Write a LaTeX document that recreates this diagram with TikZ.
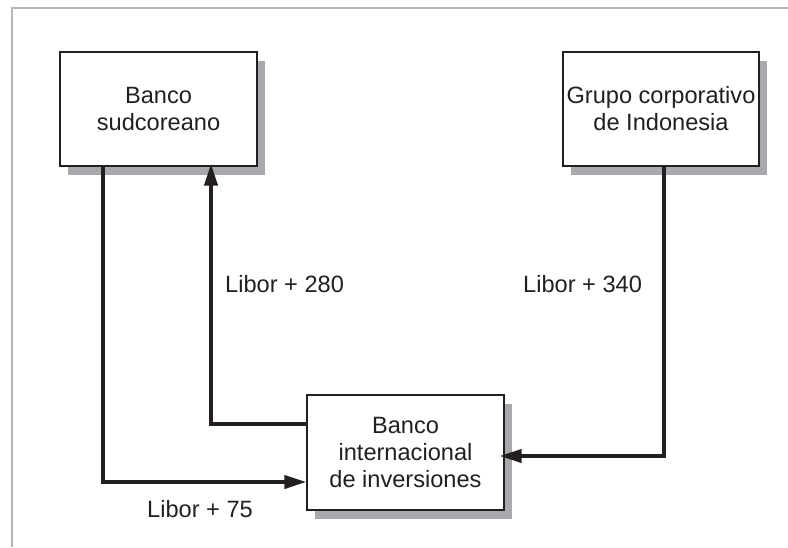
\documentclass[tikz,border=0pt]{standalone}
\usepackage{fontspec}
\setmainfont{Liberation Sans}
\usetikzlibrary{arrows.meta,shadows}
\definecolor{ink}{HTML}{231F20}
\definecolor{shade}{HTML}{A7A9AC}
\definecolor{framegray}{HTML}{B5B5B5}
\begin{document}
\begin{tikzpicture}[x=1pt,y=-1pt,
  box/.style={draw=ink,line width=1.3pt,fill=white,align=center,
    font=\fontsize{23.6}{27}\selectfont,text=ink,inner sep=0pt,
    minimum width=197pt,minimum height=114pt,
    drop shadow={shadow xshift=8pt,shadow yshift=-9pt,fill=shade,opacity=1}},
  conn/.style={draw=ink,line width=4pt,line join=miter},
  tip/.style={-{Triangle[length=22pt,width=13pt]}},
  lbl/.style={font=\fontsize{23.6}{27}\selectfont,text=ink,inner sep=0pt,anchor=base west}]
\useasboundingbox (0,0) rectangle (788,547);
\draw[framegray,line width=2pt] (12,547) -- (12,8) -- (788,8);

\node[box] (a) at (158.5,109) {Banco\\sudcoreano};
\node[box,minimum width=196pt] (g) at (661,109) {Grupo corporativo\\de Indonesia};
\node[box,minimum height=115pt] (c) at (405.5,452.5) {Banco\\internacional\\de inversiones};

\coordinate (p1) at (103,482);
\coordinate (p2) at (211,424);
\coordinate (p3) at (664,456);

\draw[conn,tip] (a.south -| p1) -- (p1) -- (c.west |- p1);
\draw[conn,tip,shorten >=-3pt] (c.west |- p2) -- (p2) -- (a.south -| p2);
\draw[conn,tip,shorten >=-5pt] (g.south -| p3) -- (p3) -- (c.east |- p3);

\node[lbl] (l1) at (225,292) {Libor + 280};
\node[lbl] (l2) at (523,292) {Libor + 340};
\node[lbl] (l3) at (147,517) {Libor + 75};
\end{tikzpicture}
\end{document}
